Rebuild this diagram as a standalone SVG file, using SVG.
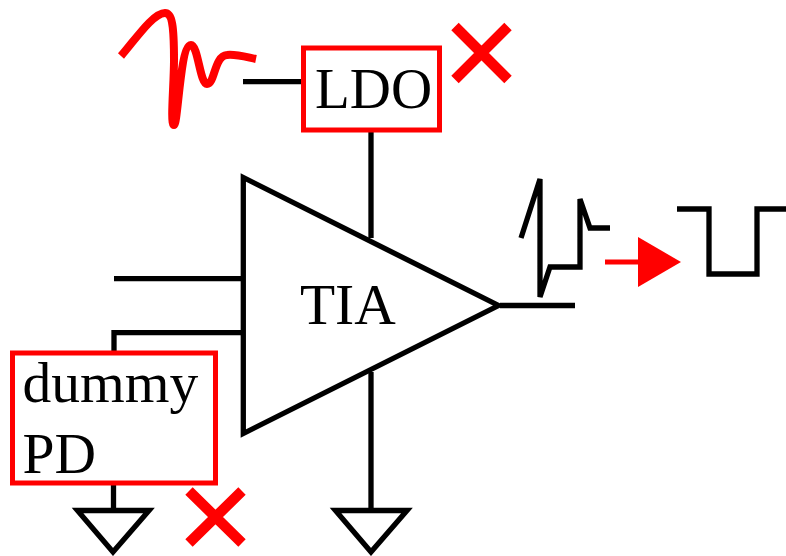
<svg xmlns="http://www.w3.org/2000/svg" width="786" height="556" viewBox="0 0 786 556">
<style>
.k{fill:none;stroke:#000;stroke-width:5.3}
.r{fill:none;stroke:#f00;stroke-width:5}
.x{fill:none;stroke:#f00;stroke-width:10.5}
.t{font-family:"Liberation Serif",serif;font-size:57.5px;fill:#000}
</style>
<rect width="786" height="556" fill="#fff"/>
<g id="connectors">
<path class="k" d="M243 81.7H303M371 131V238M114 278.7H243M114 352V332.7H243M500 305.5H575M371 372V510M113.500 483V510"/>
</g>
<g id="waveform-red"><path d="M121 56C135 40 153 13 165 13C172 13 174 25 174 60C174 85 170 125 174 125C178 125 180 45 191 45C198 45 200 84 207 84C215 84 214 56 227 55C236 54 246 57 256 59" fill="none" stroke="#f00" stroke-width="8"/></g>
<g id="ldo"><rect class="r" x="303.500" y="48" width="136" height="82"/><text class="t" x="315" y="108" style="font-size:57px">LDO</text></g>
<g id="x1"><path class="x" d="M455 26.500L508 79.500M508 26.500L455 79.500"/></g>
<g id="tia"><path class="k" d="M243.300 177.500V433.500L498.500 305.500Z"/><text class="t" x="300" y="324">TIA</text></g>
<g id="dummy"><rect class="r" x="12.500" y="353" width="203" height="130"/><text class="t" x="22.500" y="402">dummy</text><text class="t" x="22.500" y="473">PD</text></g>
<g id="x2"><path class="x" d="M189 491L242 543M242 491L189 543"/></g>
<g id="gnd1"><path class="k" d="M77.500 510.500H149L113 552Z"/></g>
<g id="gnd2"><path class="k" d="M335.500 510.500H407L371 552Z"/></g>
<g id="waveform-out"><path class="k" d="M521 238L540 179V297L550 267H580V199L590 228H610"/></g>
<g id="arrow"><path d="M605 262H640" stroke="#f00" stroke-width="5"/><path d="M638 237L681 262L638 287Z" fill="#f00"/></g>
<g id="pulse"><path class="k" d="M677 209H709V274H757V209H786"/></g>
</svg>
